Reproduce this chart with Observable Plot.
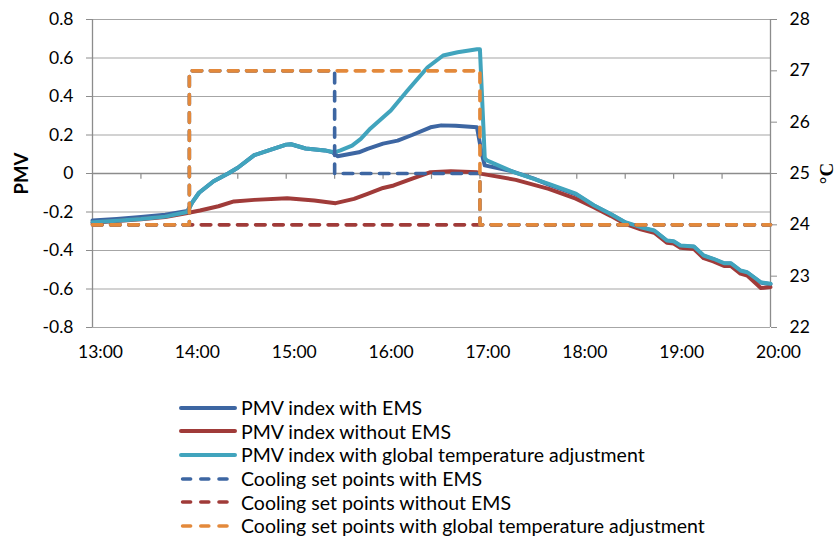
<!DOCTYPE html>
<html>
<head>
<meta charset="utf-8">
<script src="https://cdn.jsdelivr.net/npm/d3@7"></script>
<script src="https://cdn.jsdelivr.net/npm/@observablehq/plot@0.6"></script>
<style>
  html, body { margin: 0; padding: 0; background: #fff; }
  #wrap { position: relative; width: 836px; height: 539px; font-family: Lato, "Open Sans", sans-serif; }
  #legend { position: absolute; left: 178px; top: 396px; }
  .row { display: flex; align-items: center; height: 23.6px; font-size: 19.5px; color: #000; white-space: nowrap; }
  .row svg { flex: none; margin-right: 3px; }
</style>
</head>
<body>
<div id="wrap"><div id="chart"></div><div id="legend"></div></div>
<script>
// ---- tick labels ----
const timeTicks = [13, 14, 15, 16, 17, 18, 19, 20];
const timeLabels = ["13:00", "14:00", "15:00", "16:00", "17:00", "18:00", "19:00", "20:00"];
const halfHours = [13.5, 14, 14.5, 15, 15.5, 16, 16.5, 17, 17.5, 18, 18.5, 19, 19.5];
const pmvTicks = [-0.8, -0.6, -0.4, -0.2, 0, 0.2, 0.4, 0.6, 0.8];
const pmvLabels = ["-0.8", "-0.6", "-0.4", "-0.2", "0", "0.2", "0.4", "0.6", "0.8"];
const tempTicks = [22, 23, 24, 25, 26, 27, 28];
const tempLabels = ["22", "23", "24", "25", "26", "27", "28"];

// ---- series: [hour, PMV] ----
const pmvWithEms = [
  [13.0, -0.244], [13.25, -0.236], [13.5, -0.226], [13.75, -0.214], [13.98, -0.195],
  [14.03, -0.15], [14.1, -0.1], [14.25, -0.04], [14.4, 0.0], [14.5, 0.03], [14.67, 0.095],
  [14.85, 0.125], [15.0, 0.15], [15.05, 0.152], [15.2, 0.13], [15.4, 0.12], [15.48, 0.11],
  [15.53, 0.09], [15.75, 0.11], [15.84, 0.128], [16.0, 0.155], [16.15, 0.171], [16.3, 0.2],
  [16.49, 0.24], [16.6, 0.25], [16.75, 0.248], [16.97, 0.24], [17.02, 0.1], [17.05, 0.042],
  [17.3, 0.016], [17.55, -0.025], [17.71, -0.058], [17.99, -0.108], [18.18, -0.168],
  [18.35, -0.212], [18.5, -0.255], [18.66, -0.281], [18.8, -0.298], [18.93, -0.35],
  [19.0, -0.354], [19.07, -0.376], [19.21, -0.381], [19.31, -0.428], [19.41, -0.445],
  [19.52, -0.468], [19.59, -0.468], [19.69, -0.506], [19.76, -0.515], [19.9, -0.567], [20.0, -0.575]
];
const pmvWithoutEms = [
  [13.0, -0.256], [13.25, -0.247], [13.5, -0.238], [13.75, -0.226], [13.98, -0.205],
  [14.11, -0.192], [14.3, -0.17], [14.46, -0.145], [14.67, -0.137], [15.01, -0.128],
  [15.29, -0.14], [15.51, -0.154], [15.7, -0.132], [15.84, -0.106], [16.0, -0.075],
  [16.11, -0.062], [16.28, -0.03], [16.49, 0.007], [16.7, 0.012], [16.97, 0.006],
  [17.02, -0.002], [17.37, -0.033], [17.71, -0.08], [17.99, -0.131], [18.18, -0.176],
  [18.35, -0.22], [18.5, -0.262], [18.66, -0.29], [18.8, -0.308], [18.93, -0.36],
  [19.0, -0.364], [19.07, -0.386], [19.21, -0.392], [19.31, -0.44], [19.41, -0.457],
  [19.52, -0.48], [19.59, -0.48], [19.69, -0.52], [19.76, -0.53], [19.9, -0.595], [20.0, -0.59]
];
const pmvGlobal = [
  [13.0, -0.253], [13.25, -0.245], [13.5, -0.236], [13.75, -0.224], [13.98, -0.2],
  [14.03, -0.15], [14.1, -0.1], [14.25, -0.04], [14.4, 0.0], [14.5, 0.03], [14.67, 0.095],
  [14.85, 0.125], [15.0, 0.15], [15.05, 0.152], [15.2, 0.13], [15.4, 0.12], [15.5, 0.11],
  [15.56, 0.12], [15.68, 0.145], [15.77, 0.18], [15.87, 0.234], [16.08, 0.327], [16.25, 0.43],
  [16.46, 0.552], [16.62, 0.613], [16.77, 0.63], [16.97, 0.645], [17.0, 0.645],
  [17.05, 0.08], [17.07, 0.068], [17.35, 0.007], [17.71, -0.054], [17.99, -0.105],
  [18.18, -0.166], [18.35, -0.21], [18.5, -0.253], [18.66, -0.279], [18.8, -0.296],
  [18.93, -0.348], [19.0, -0.352], [19.07, -0.374], [19.21, -0.379], [19.31, -0.426],
  [19.41, -0.443], [19.52, -0.466], [19.59, -0.466], [19.69, -0.504], [19.76, -0.513],
  [19.9, -0.565], [20.0, -0.573]
];

// ---- cooling set points: [hour, °C] ----
const spWithEms = [[13, 24], [14, 24], [14, 27], [15.5, 27], [15.5, 25], [17, 25], [17, 24], [20, 24]];
const spWithoutEms = [[13, 24], [20, 24]];
const spGlobal = [[13, 24], [14, 24], [14, 27], [17, 27], [17, 24], [20, 24]];

// °C (right axis, 22..28) mapped onto PMV (left axis, -0.8..0.8)
const toPmv = t => (t - 25) * 0.8 / 3;

const C = { blue: "#3D66A2", red: "#A03B39", cyan: "#41A4BD", orange: "#E3893B" };
const grid = "#a6a6a6";
const dash = "9.6,8.52";

const series = [
  { name: "PMV index with EMS", color: C.blue, dashed: false },
  { name: "PMV index without EMS", color: C.red, dashed: false },
  { name: "PMV index with global temperature adjustment", color: C.cyan, dashed: false },
  { name: "Cooling set points with EMS", color: C.blue, dashed: true },
  { name: "Cooling set points without EMS", color: C.red, dashed: true },
  { name: "Cooling set points with global temperature adjustment", color: C.orange, dashed: true }
];

const solid = (data, color) => Plot.line(data, { x: d => d[0], y: d => d[1], stroke: color, strokeWidth: 4, strokeLinejoin: "round", strokeLinecap: "round" });
const dashed = (data, color) => Plot.line(data, { x: d => d[0], y: d => toPmv(d[1]), stroke: color, strokeWidth: 3.6, strokeDasharray: dash, strokeLinecap: "round" });

const chart = Plot.plot({
  width: 836,
  height: 367,
  marginLeft: 92,
  marginRight: 66,
  marginTop: 19,
  marginBottom: 40,
  style: { fontFamily: "Lato, 'Open Sans', sans-serif", fontSize: "17.5px", background: "#fff", overflow: "visible" },
  x: { domain: [13, 20] },
  y: { domain: [-0.8, 0.8] },
  marks: [
    Plot.ruleY(pmvTicks, { stroke: grid, strokeWidth: 1.2 }),
    Plot.ruleY([0], { stroke: "#8c8c8c", strokeWidth: 1.3 }),
    Plot.ruleX(halfHours, { x: d => d, y1: 0, y2: -0.03, stroke: "#8c8c8c", strokeWidth: 1.2 }),
    Plot.ruleX([13, 20], { stroke: "#8c8c8c", strokeWidth: 1.3 }),
    Plot.axisY(pmvTicks, { anchor: "left", tickSize: 6, tickPadding: 13, stroke: "#8c8c8c", tickFormat: d => pmvLabels[pmvTicks.indexOf(d)], label: null, fontSize: 17.5 }),
    Plot.axisY(tempTicks.map(toPmv), { anchor: "right", tickSize: 6, tickPadding: 13, stroke: "#8c8c8c", tickFormat: (d, i) => tempLabels[i], label: null, fontSize: 17.5 }),
    Plot.axisX(timeTicks, { anchor: "bottom", tickSize: 0, tickPadding: 18, dx: 8, tickFormat: d => timeLabels[timeTicks.indexOf(d)], label: null, fontSize: 17.5 }),
    Plot.text(["PMV"], { frameAnchor: "left", textAnchor: "middle", dx: -70, rotate: -90, fontWeight: "bold", fontSize: 18.5, text: d => d }),
    Plot.text(["°C"], { frameAnchor: "right", textAnchor: "middle", dx: 56, rotate: -90, fontSize: 19, fontWeight: "bold", fontFamily: "'Liberation Serif', serif", text: d => d }),
    solid(pmvWithEms, C.blue),
    solid(pmvWithoutEms, C.red),
    solid(pmvGlobal, C.cyan),
    dashed(spWithoutEms, C.red),
    dashed(spWithEms, C.blue),
    dashed(spGlobal, C.orange)
  ]
});
document.getElementById("chart").appendChild(chart);

// ---- legend ----
const legend = d3.select("#legend");
for (const s of series) {
  const row = legend.append("div").attr("class", "row");
  const svg = row.append("svg").attr("width", 60).attr("height", 12);
  if (s.dashed) {
    svg.append("line").attr("x1", 4.6).attr("x2", 49).attr("y1", 6).attr("y2", 6)
      .attr("stroke", s.color).attr("stroke-width", 3.6).attr("stroke-linecap", "round")
      .attr("stroke-dasharray", "8,10.2");
  } else {
    svg.append("line").attr("x1", 3).attr("x2", 57).attr("y1", 6).attr("y2", 6)
      .attr("stroke", s.color).attr("stroke-width", 4).attr("stroke-linecap", "round");
  }
  row.append("span").text(s.name);
}
</script>
</body>
</html>
